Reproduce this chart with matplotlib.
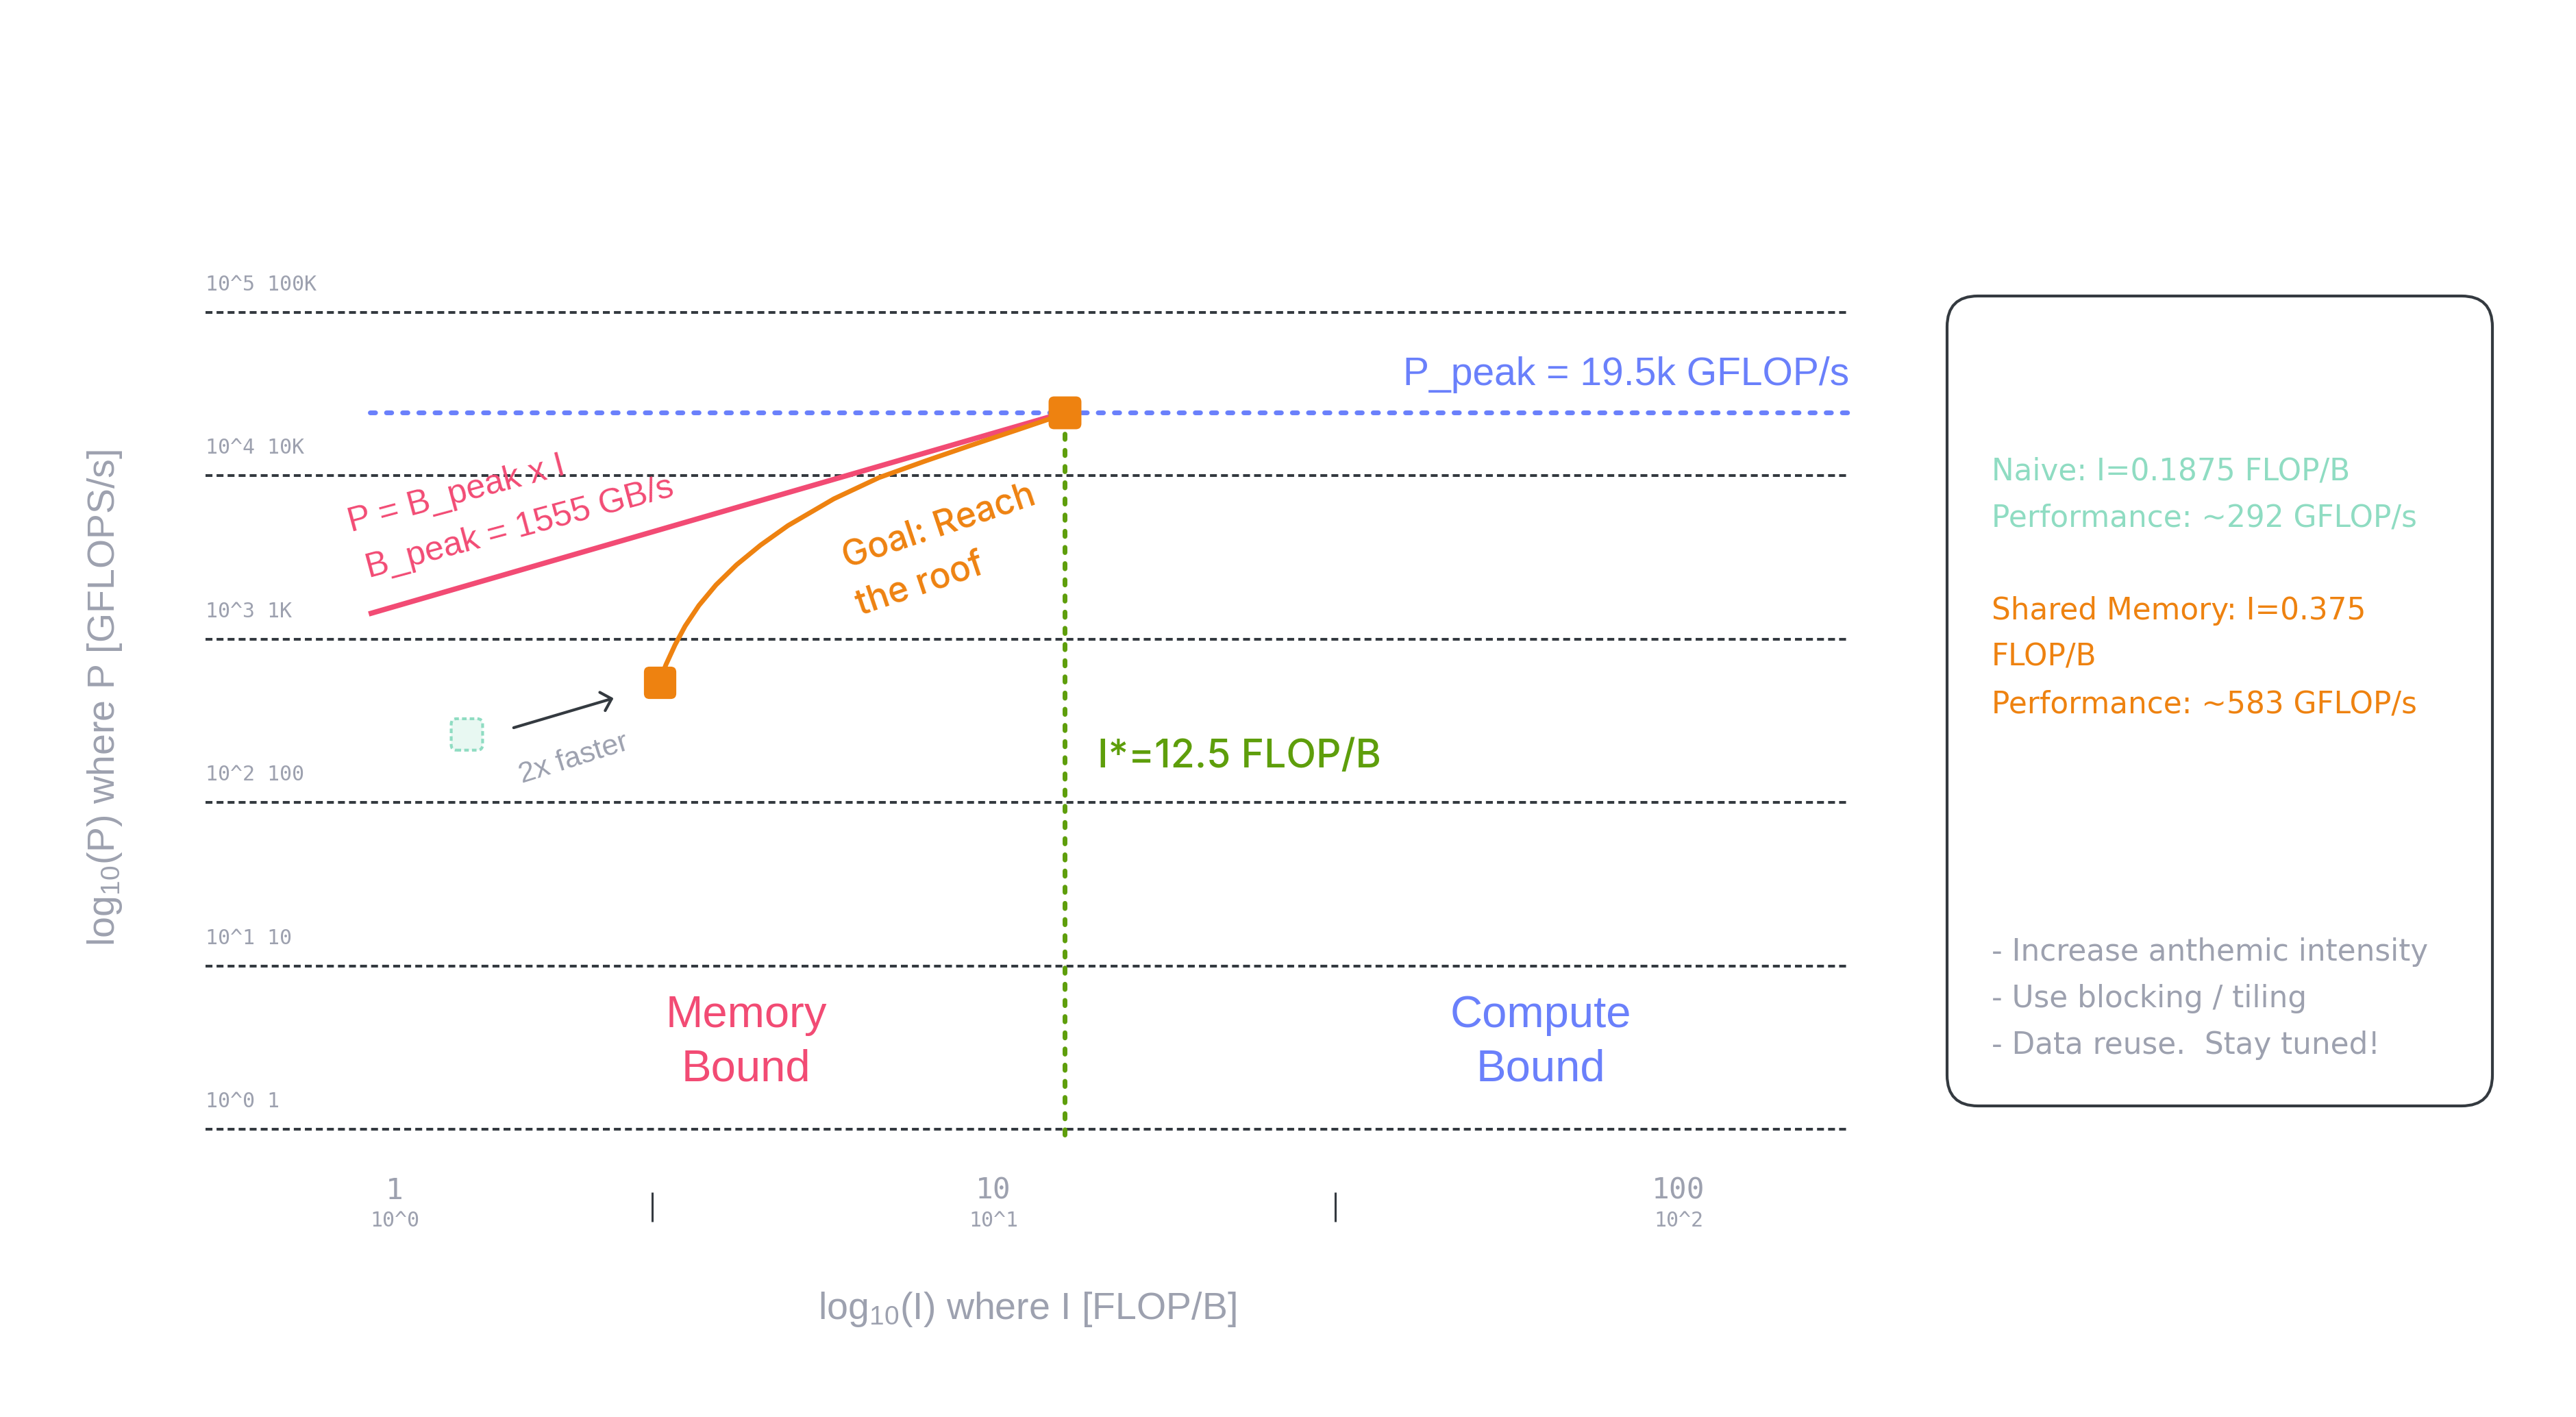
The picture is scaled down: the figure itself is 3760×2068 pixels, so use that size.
import matplotlib
matplotlib.use('Agg')
import matplotlib.pyplot as plt
import matplotlib.patches as mpatches
from matplotlib.markers import MarkerStyle

plt.rcParams['font.family'] = ['Liberation Sans', 'DejaVu Sans']
plt.rcParams['mathtext.default'] = 'regular'

W, H = 3760, 2068          # output size in pixels (dpi 100)

# P axis decades [GFLOP/s] and the labels written above each grid line
p_decades = [1, 10, 100, 1e3, 1e4, 1e5]
p_labels = ['10^0 1', '10^1 10', '10^2 100', '10^3 1K', '10^4 10K', '10^5 100K']
# I axis labels [FLOP/B]
i_labels = ['1', '10', '100']
i_exps = ['10^0', '10^1', '10^2']
i_minor = [2.69, 37.2]

# roofline (I in FLOP/B, P in GFLOP/s)
roof_i = [0.91, 269]
roof_p = [24400, 24400]
slope_i = [0.905, 13.15]
slope_p = [1426, 24400]
ridge_i = [13.15, 13.15]
ridge_p = [0.93, 24400]

# kernels
naive_i, naive_p = [1.32], [261]
shared_i, shared_p = [2.77], [543]
best_i, best_p = [13.15], [24400]

# path from the shared memory kernel up to the ridge point
goal_i = [2.765, 2.838, 2.938, 3.055, 3.221, 3.440, 3.723, 4.083, 4.537, 5.413,
          6.441, 7.686, 9.168, 10.91, 12.35, 13.15]
goal_p = [543, 698, 920, 1202, 1607, 2147, 2851, 3763, 4955, 7228,
          9750, 12300, 15360, 19000, 22160, 24400]

arrow_i = [1.58, 2.32]
arrow_p = [287, 435]

box_naive = ['Naive: I=0.1875 FLOP/B', 'Performance: ~292 GFLOP/s']
box_shared = ['Shared Memory: I=0.375', 'FLOP/B', 'Performance: ~583 GFLOP/s']
box_todo = ['- Increase anthemic intensity', '- Use blocking / tiling', '- Data reuse.  Stay tuned!']

DARK = '#343a40'
GRAY = '#9da1af'
PINK = '#f24b74'
BLUE = '#6a80fb'
GREEN = '#5e9e0b'
ORANGE = '#ee8210'
TEAL = '#8fdcc2'
TEAL_FILL = '#e8f8f2'


def fx(px):
    return px / W


def fy(py):
    return 1 - py / H


fig = plt.figure(figsize=(W / 100, H / 100), dpi=100)
fig.patch.set_facecolor('white')

ax = fig.add_axes([fx(300), fy(1648), 2400 / W, 1192 / H])
ax.set_xscale('log')
ax.set_yscale('log')
ax.set_xlim(0.4831, 269.3)
ax.set_ylim(1, 1e5)
ax.axis('off')

# grid lines + labels
for p, lab in zip(p_decades, p_labels):
    ax.axhline(p, color=DARK, lw=2.9, linestyle=(0, (2.5, 1.5)), zorder=1, clip_on=False)
    ax.annotate(lab, xy=(0, p), xycoords=('axes fraction', 'data'),
                xytext=(0, 32), textcoords='offset pixels', ha='left', va='baseline',
                fontsize=21.5, color=GRAY, family='DejaVu Sans Mono')

# roof / slope / ridge
ax.plot(roof_i, roof_p, color=BLUE, lw=5, linestyle=(0, (1.1, 2.3)),
        dash_capstyle='round', zorder=2, clip_on=False)
ax.plot(ridge_i, ridge_p, color=GREEN, lw=5, linestyle=(0, (1.1, 2.3)),
        dash_capstyle='round', zorder=2, clip_on=False)
ax.plot(slope_i, slope_p, color=PINK, lw=5.5, solid_capstyle='butt', zorder=3)
ax.plot(goal_i, goal_p, color=ORANGE, lw=5, solid_capstyle='round',
        solid_joinstyle='round', zorder=4)

# rounded square marker
sq = mpatches.BoxStyle.Round(pad=0, rounding_size=0.17)(-0.5, -0.5, 1, 1, 1)
ax.plot(shared_i, shared_p, marker=MarkerStyle(sq), ms=34, mew=0, color=ORANGE,
        linestyle='none', zorder=6)
ax.plot(best_i, best_p, marker=MarkerStyle(sq), ms=34.5, mew=0, color=ORANGE,
        linestyle='none', zorder=6)
ax.scatter(naive_i, naive_p, s=33 ** 2, marker=sq, facecolor=TEAL_FILL, edgecolor=TEAL,
           linewidths=3, linestyle=(0, (1.6, 1.1)), zorder=6)

ax.annotate('', xy=(arrow_i[1], arrow_p[1]), xytext=(arrow_i[0], arrow_p[0]),
            arrowprops=dict(arrowstyle='->,head_length=0.5,head_width=0.5', color=DARK,
                            lw=3, mutation_scale=20, shrinkA=0, shrinkB=0), zorder=5)

# x axis labels and little separators
for px, lab, ex in zip([576, 1450, 2450], i_labels, i_exps):
    fig.text(fx(px), fy(1750), lab, ha='center', va='baseline', fontsize=31,
             color=GRAY, family='DejaVu Sans Mono')
    fig.text(fx(px), fy(1790), ex, ha='center', va='baseline', fontsize=21.5,
             color=GRAY, family='DejaVu Sans Mono')
ax.vlines(i_minor, -0.1133, -0.0772, color=DARK, lw=2.2,
          transform=ax.get_xaxis_transform(), clip_on=False)

# axis titles
fig.text(fx(1499), fy(1911), 'log$_{10}$(I) where I [FLOP/B]', ha='center', va='center',
         fontsize=40, color=GRAY)
fig.text(fx(153), fy(1019), 'log$_{10}$(P) where P [GFLOPS/s]', ha='center', va='center',
         fontsize=40, color=GRAY, rotation=90)

# annotations inside the plot
fig.text(fx(2699), fy(562), 'P_peak = 19.5k GFLOP/s', ha='right', va='baseline',
         fontsize=41, color=BLUE)
fig.text(fx(512), fy(776), 'P = B_peak x I', ha='left', va='baseline', fontsize=36,
         color=PINK, rotation=15, rotation_mode='anchor')
fig.text(fx(538), fy(843), 'B_peak = 1555 GB/s', ha='left', va='baseline', fontsize=36,
         color=PINK, rotation=15, rotation_mode='anchor')
fig.text(fx(1375), fy(783), 'Goal: Reach', ha='center', va='baseline', fontsize=37,
         color=ORANGE, rotation=18.6, rotation_mode='anchor', family='Inter', weight='medium')
fig.text(fx(1348), fy(867), 'the roof', ha='center', va='baseline', fontsize=37,
         color=ORANGE, rotation=18.6, rotation_mode='anchor', family='Inter', weight='medium')
fig.text(fx(837), fy(1108), '2x faster', ha='center', va='center', fontsize=31,
         color=GRAY, rotation=17.5, rotation_mode='anchor')
fig.text(fx(1602), fy(1120), 'I*=12.5 FLOP/B', ha='left', va='baseline', fontsize=41,
         color=GREEN, family='Inter', weight='medium')
for px, words, col in [(1089, ['Memory', 'Bound'], PINK), (2249, ['Compute', 'Bound'], BLUE)]:
    for base, w in zip([1499, 1578], words):
        fig.text(fx(px), fy(base), w, ha='center', va='baseline', fontsize=47, color=col)

# side panel
box = mpatches.FancyBboxPatch((28.42, (H - 1614) / 100), 7.96, 11.82,
                              boxstyle='round,pad=0,rounding_size=0.45',
                              transform=fig.dpi_scale_trans, facecolor='white',
                              edgecolor=DARK, lw=3)
fig.add_artist(box)
for rows, base, col in [(box_naive, 700, TEAL), (box_shared, 904, ORANGE), (box_todo, 1402, GRAY)]:
    for k, line in enumerate(rows):
        fig.text(fx(2907), fy(base + 68 * k), line, ha='left', va='baseline',
                 fontsize=31.5, color=col, family='DejaVu Sans')

fig.savefig('out.png', dpi=100, facecolor='white')
